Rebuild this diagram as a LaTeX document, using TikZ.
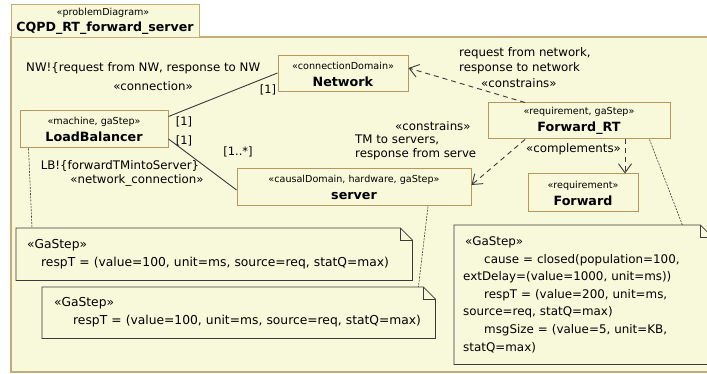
\documentclass[tikz,border=0pt]{standalone}
\usepackage{fontspec}
\setmainfont{DejaVu Sans}
\usetikzlibrary{arrows.meta,calc}
\definecolor{bg}{HTML}{F8F8DA}
\definecolor{tanline}{HTML}{B8985A}
\definecolor{frameline}{HTML}{C4AC78}
\definecolor{ink}{HTML}{3A3A3A}
\begin{document}
\begin{tikzpicture}[x=1pt,y=-1pt,
  ster/.style={font=\fontsize{9.6}{11}\selectfont},
  cls/.style={draw=tanline,line width=1pt,fill=bg,align=center,inner sep=0pt,
    font=\fontsize{12.7}{15}\selectfont},
  lbl/.style={font=\fontsize{11.8}{14}\selectfont,inner sep=0pt,text=black},
  mult/.style={font=\fontsize{11.5}{13}\selectfont,inner sep=0pt},
  notebox/.style={draw=none,align=left,inner ysep=0pt,
    font=\fontsize{12.3}{18}\selectfont},
  noteline/.style={draw=ink,line width=0.8pt},
  assoc/.style={draw=ink,line width=0.9pt},
  dep/.style={draw=ink,line width=0.9pt,dash pattern=on 5pt off 4pt,
    -{Straight Barb[length=9pt,width=13pt,line width=0.9pt]}},
  anch/.style={draw=ink,line width=0.6pt,dash pattern=on 2pt off 1.2pt}]
\useasboundingbox (0,0) rectangle (707,374);
\clip (0,0) rectangle (707,374);
\fill[white] (0,0) rectangle (707,374);
% frame
\draw[frameline,line width=1.3pt,fill=bg] (11,37) rectangle (730,372);
\node[draw=frameline,line width=1.3pt,fill=bg,minimum width=188,minimum height=33,anchor=north west,inner sep=0pt] (tab) at (11,4) {};
\node[ster] (tabs) at (103,13) {«problemDiagram»};
\node[font=\fontsize{12.6}{14}\selectfont\bfseries] (tabn) at (105,28) {CQPD\_RT\_forward\_server};
% classes
\node[cls,minimum width=130,minimum height=36] (nw) at (343,74)
  {{\fontsize{9.6}{11}\selectfont «connectionDomain»}\\[2pt]\textbf{Network}};
\node[cls,minimum width=148,minimum height=37] (lb) at (94,129.5)
  {{\fontsize{9.6}{11}\selectfont «machine, gaStep»}\\[2pt]\textbf{LoadBalancer}};
\node[cls,minimum width=234,minimum height=37] (srv) at (354,187.5)
  {{\fontsize{9.6}{11}\selectfont «causalDomain, hardware, gaStep»}\\[2pt]\textbf{server}};
\node[cls,minimum width=182,minimum height=36] (frt) at (579,121)
  {{\fontsize{9.6}{11}\selectfont «requirement, gaStep»}\\[2pt]\textbf{Forward\_RT}};
\node[cls,minimum width=110,minimum height=38] (fwd) at (583,193)
  {{\fontsize{9.6}{11}\selectfont «requirement»}\\[2pt]\textbf{Forward}};
% notes
\node[notebox,inner xsep=11pt,text width=374pt,minimum height=52,anchor=north west] (n1) at (16,228)
  {«GaStep»\\\hspace*{14pt}respT = (value=100, unit=ms, source=req, statQ=max)};
\node[notebox,inner xsep=12pt,text width=369pt,minimum height=51,anchor=north west] (n2) at (42,287)
  {«GaStep»\\\hspace*{19pt}respT = (value=100, unit=ms, source=req, statQ=max)};
\node[notebox,inner xsep=9pt,text width=240pt,minimum height=139,anchor=north west,
  font=\fontsize{11.9}{17.6}\selectfont] (n3) at (454,225)
  {\hspace*{2pt}«GaStep»\\\hspace*{21pt}cause = closed(population=100,\\extDelay=(value=1000, unit=ms))\\\hspace*{21pt}respT = (value=200, unit=ms,\\source=req, statQ=max)\\\hspace*{21pt}msgSize = (value=5, unit=KB,\\statQ=max)};
\foreach \n in {n1,n2,n3}{
  \draw[noteline] (\n.north west) -- ($(\n.north east)+(-12,0)$) -- ($(\n.north east)+(0,12)$)
    -- (\n.south east) -- (\n.south west) -- cycle;
  \draw[noteline] ($(\n.north east)+(-12,0)$) -- ($(\n.north east)+(-12,12)$) -- ($(\n.north east)+(0,12)$);
}
% associations
\draw[assoc] ($(lb.north east)+(0,6)$) -- ($(nw.west)+(0,-1)$);
\draw[assoc] ($(lb.east)+(0,9.5)$) -- ($(srv.west)+(0,2.5)$);
% dependencies
\draw[dep] ($(frt.north)+(-54,0)$) -- ($(nw.east)+(0,-6)$);
\draw[dep] ($(frt.south)+(-54,0)$) -- ($(srv.east)+(0,-2.5)$);
\draw[dep] ($(frt.south)+(46,0)$) -- ($(fwd.north)+(42,0)$);
% note anchors
\draw[anch] ($(lb.south west)+(9,0)$) -- ($(n1.north west)+(16,0)$);
\draw[anch] ($(srv.south)+(74,0)$) -- ($(n2.north east)+(-17,0)$);
\draw[anch] ($(frt.south east)+(-21,0)$) -- ($(n3.north east)+(-30,0)$);
% labels
\node[lbl,anchor=west] (l1) at (26,68) {NW!\{request from NW, response to NW};
\node[lbl] (l2) at (153,86) {«connection»};
\node[mult] (m1) at (268,90) {[1]};
\node[mult] (m2) at (184,122) {[1]};
\node[mult] (m3) at (184,141) {[1]};
\node[mult] (m4) at (238,152) {[1..*]};
\node[lbl] (l3) at (120,166) {LB!\{forwardTMintoServer\}};
\node[lbl] (l4) at (137,180) {«network\_connection»};
\node[lbl,anchor=west] (l5) at (459,53) {request from network,};
\node[lbl,anchor=west] (l6) at (459,68) {response to network};
\node[lbl,anchor=west] (l7) at (481,83) {«constrains»};
\node[lbl,anchor=west] (l8) at (395,126) {«constrains»};
\node[lbl,anchor=west] (l9) at (355,140) {TM to servers,};
\node[lbl,anchor=west] (l10) at (355,154) {response from serve};
\node[lbl,anchor=west] (l11) at (526,149) {«complements»};
\end{tikzpicture}
\end{document}
